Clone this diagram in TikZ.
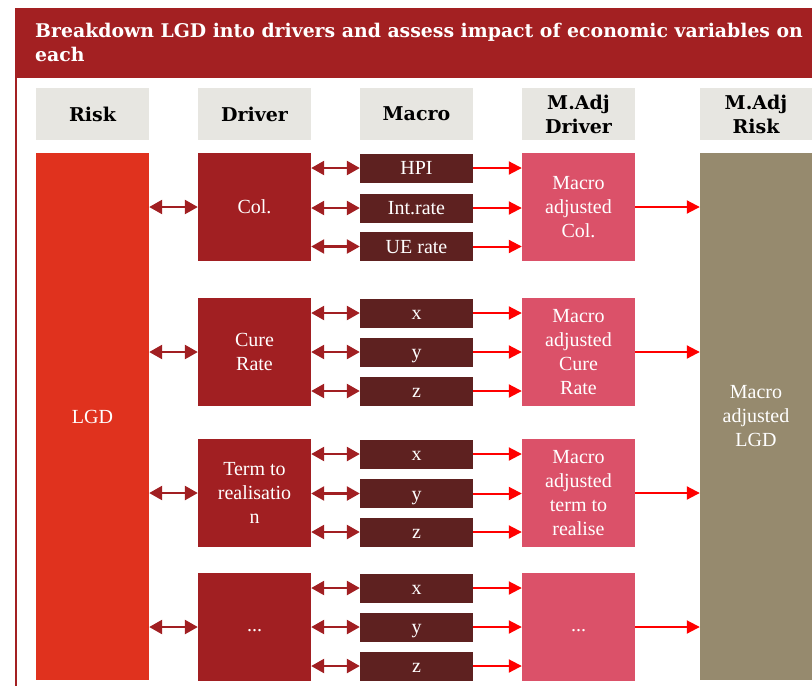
\documentclass[tikz,border=0pt]{standalone}
\usepackage{fontspec}
\setmainfont{Liberation Serif}
\newfontfamily\boldserif{DejaVu Serif}
\usetikzlibrary{arrows.meta}
\definecolor{bandred}{HTML}{A32022}
\definecolor{hdrgray}{HTML}{E7E6E1}
\definecolor{lgdred}{HTML}{E0321E}
\definecolor{drvred}{HTML}{A11F22}
\definecolor{macbrown}{HTML}{5E2120}
\definecolor{adjpink}{HTML}{DB5169}
\definecolor{taupe}{HTML}{968A6E}
\definecolor{arrred}{HTML}{FF0000}
\tikzset{
  box/.style={draw=none, inner sep=0pt, align=center, text=white,
    font=\fontsize{20}{24}\selectfont},
  hdr/.style={box, fill=hdrgray, text=black, minimum width=113pt, minimum height=52pt,
    font=\boldserif\bfseries\fontsize{19}{24}\selectfont},
  riskbox/.style={box, minimum width=113pt, minimum height=527pt},
  drvbox/.style={box, fill=drvred, minimum width=113pt, minimum height=108pt},
  macbox/.style={box, fill=macbrown, minimum width=113pt, minimum height=29pt,
    text height=13pt, text depth=0pt},
  adjbox/.style={box, fill=adjpink, minimum width=113pt, minimum height=108pt},
  dotsbox/.style={text height=8pt, text depth=0pt},
  dbl/.style={draw=drvred, line width=2.5pt, {Triangle[length=13pt,width=14pt]}-{Triangle[length=13pt,width=14pt]}},
  red/.style={draw=arrred, line width=2pt, -{Triangle[length=13pt,width=13pt]}},
}
\begin{document}
\begin{tikzpicture}[x=1pt,y=-1pt]
\useasboundingbox (0,0) rectangle (812,686);
\fill[white] (0,0) rectangle (812,686);
% frame and title band
\draw[bandred, line width=2pt] (16,8) -- (16,686);
\fill[bandred] (15,8) rectangle (812,78);
\node[anchor=north west, align=left, text=white, inner sep=0pt,
  font=\boldserif\bfseries\fontsize{18.85}{24}\selectfont] (title) at (35,23)
  {Breakdown LGD into drivers and assess impact of economic variables on\\each};
% headers
\node[hdr] (h1) at (92.5,114) {Risk};
\node[hdr] (h2) at (254.5,114) {Driver};
\node[hdr] (h3) at (416.5,114) {Macro};
\node[hdr] (h4) at (578.5,114) {M.Adj\\Driver};
\node[hdr, minimum width=112pt] (h5) at (756,114) {M.Adj\\Risk};
% risk columns
\node[riskbox, fill=lgdred] (lgd) at (92.5,416.5) {LGD};
\node[riskbox, fill=taupe, minimum width=112pt] (rsk) at (756,416.5) {Macro\\adjusted\\LGD};
% drivers
\node[drvbox] (d1) at (254.5,207) {Col.};
\node[drvbox] (d2) at (254.5,352) {Cure\\Rate};
\node[drvbox] (d3) at (254.5,493) {Term to\\realisatio\\n};
\node[drvbox, dotsbox] (d4) at (254.5,627) {...};
% adjusted drivers
\node[adjbox] (a1) at (578.5,207) {Macro\\adjusted\\Col.};
\node[adjbox] (a2) at (578.5,352) {Macro\\adjusted\\Cure\\Rate};
\node[adjbox] (a3) at (578.5,493) {Macro\\adjusted\\term to\\realise};
\node[adjbox, dotsbox] (a4) at (578.5,627) {...};
% macro boxes
\node[macbox] (m11) at (416.5,168) {HPI};
\node[macbox] (m12) at (416.5,208) {Int.rate};
\node[macbox] (m13) at (416.5,246.5) {UE rate};
\node[macbox] (m21) at (416.5,313) {x};
\node[macbox] (m22) at (416.5,352) {y};
\node[macbox] (m23) at (416.5,391) {z};
\node[macbox] (m31) at (416.5,454) {x};
\node[macbox] (m32) at (416.5,493.5) {y};
\node[macbox] (m33) at (416.5,532) {z};
\node[macbox] (m41) at (416.5,588) {x};
\node[macbox] (m42) at (416.5,627) {y};
\node[macbox] (m43) at (416.5,666) {z};
% connectors
\foreach \i in {1,2,3,4}{
  \draw[dbl] (d\i.west -| lgd.east) -- (d\i.west);
  \draw[red] (a\i.east) -- (a\i.east -| rsk.west);
  \foreach \j in {1,2,3}{
    \draw[dbl] (m\i\j.west -| d\i.east) -- (m\i\j.west);
    \draw[red] (m\i\j.east) -- (m\i\j.east -| a\i.west);
  }
}
\end{tikzpicture}
\end{document}
